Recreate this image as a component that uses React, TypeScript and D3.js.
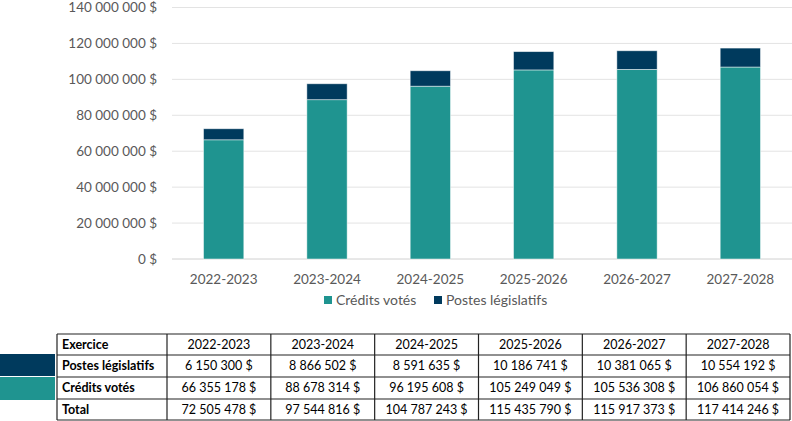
import React from 'react'
import * as d3 from 'd3'

const years = ['2022-2023', '2023-2024', '2024-2025', '2025-2026', '2026-2027', '2027-2028']
const postes = [6150300, 8866502, 8591635, 10186741, 10381065, 10554192]
const credits = [66355178, 88678314, 96195608, 105249049, 105536308, 106860054]
const totals = [72505478, 97544816, 104787243, 115435790, 115917373, 117414246]
const yTicks = [0, 20000000, 40000000, 60000000, 80000000, 100000000, 120000000, 140000000]

const TEAL = '#1f9490'
const NAVY = '#003a5d'
const FONT = 'Lato, "Open Sans", sans-serif'

const fmt = (v: number) => d3.format(',')(v).replace(/,/g, ' ') + ' $'

function App() {
  const W = 792, H = 421
  const x = d3.scaleBand<string>().domain(years).range([172, 792]).paddingInner(0.61).paddingOuter(0.305)
  const y = d3.scaleLinear().domain([0, 140000000]).range([259, 7.5])

  const stacked = d3.stack<any>().keys(['credits', 'postes'])(
    years.map((yr, i) => ({ year: yr, credits: credits[i], postes: postes[i] }))
  )
  const colors: Record<string, string> = { credits: TEAL, postes: NAVY }

  // table layout
  const tx0 = 57, tx1 = 167, tx2 = 790
  const rowY = [334, 355, 377, 399, 420]
  const colX = d3.scaleBand<string>().domain(years).range([tx1, tx2])
  const rows = [
    { label: 'Exercice', vals: years },
    { label: 'Postes législatifs', vals: postes.map(fmt) },
    { label: 'Crédits votés', vals: credits.map(fmt) },
    { label: 'Total', vals: totals.map(fmt) },
  ]

  return (
    <svg width={W} height={H} style={{ display: 'block', position: 'absolute', left: 0, top: 0 }} fontFamily={FONT}>
      <rect width={W} height={H} fill="#fff" />
      {yTicks.map(t => (
        <g key={t}>
          <line x1={172} x2={792} y1={y(t)} y2={y(t)} stroke={t === 0 ? '#d0d0d0' : '#e3e3e3'} strokeWidth={1} />
          <text x={157} y={y(t)} dy="0.35em" textAnchor="end" fontSize={13.5} fill="#595959">{fmt(t)}</text>
        </g>
      ))}
      {stacked.map(s => (
        <g key={s.key}>
          {s.map((d, i) => (
            <rect key={i} x={x(years[i])} width={x.bandwidth()} y={y(d[1])} height={y(d[0]) - y(d[1])}
              fill={colors[s.key]} stroke="#ffffff" strokeOpacity={0.6} strokeWidth={0.8} />
          ))}
        </g>
      ))}
      {years.map(yr => (
        <text key={yr} x={(x(yr) as number) + x.bandwidth() / 2} y={279} dy="0.35em" textAnchor="middle" fontSize={13.5} fill="#595959">{yr}</text>
      ))}
      <g>
        <rect x={324} y={296} width={8} height={8} fill={TEAL} />
        <text x={336} y={300} dy="0.35em" fontSize={14} fill="#595959">Crédits votés</text>
        <rect x={434} y={296} width={8} height={8} fill={NAVY} />
        <text x={446} y={300} dy="0.35em" fontSize={14} fill="#595959">Postes législatifs</text>
      </g>
      {/* swatches beside table */}
      <rect x={0} y={354} width={55} height={22} fill={NAVY} />
      <rect x={0} y={377} width={55} height={23} fill={TEAL} />
      {/* table */}
      {rows.map((r, i) => (
        <g key={r.label}>
          <text x={tx0 + 5} y={(rowY[i] + rowY[i + 1]) / 2} dy="0.35em" fontSize={12.5} fontWeight="bold" fill="#000">{r.label}</text>
          {r.vals.map((v, j) => (
            <text key={j} x={(colX(years[j]) as number) + colX.bandwidth() / 2} y={(rowY[i] + rowY[i + 1]) / 2} dy="0.35em"
              textAnchor="middle" fontSize={12.5} fill="#000">{v}</text>
          ))}
        </g>
      ))}
      {rowY.map((ry, i) => (
        <line key={i} x1={tx0} x2={tx2} y1={ry} y2={ry} stroke="#222" strokeWidth={1.2} />
      ))}
      {[tx0, tx1, ...years.slice(1).map(yr => colX(yr) as number), tx2].map((cx, i) => (
        <line key={i} x1={cx} x2={cx} y1={rowY[0]} y2={rowY[4]} stroke="#222" strokeWidth={1.2} />
      ))}
    </svg>
  )
}

export default App
